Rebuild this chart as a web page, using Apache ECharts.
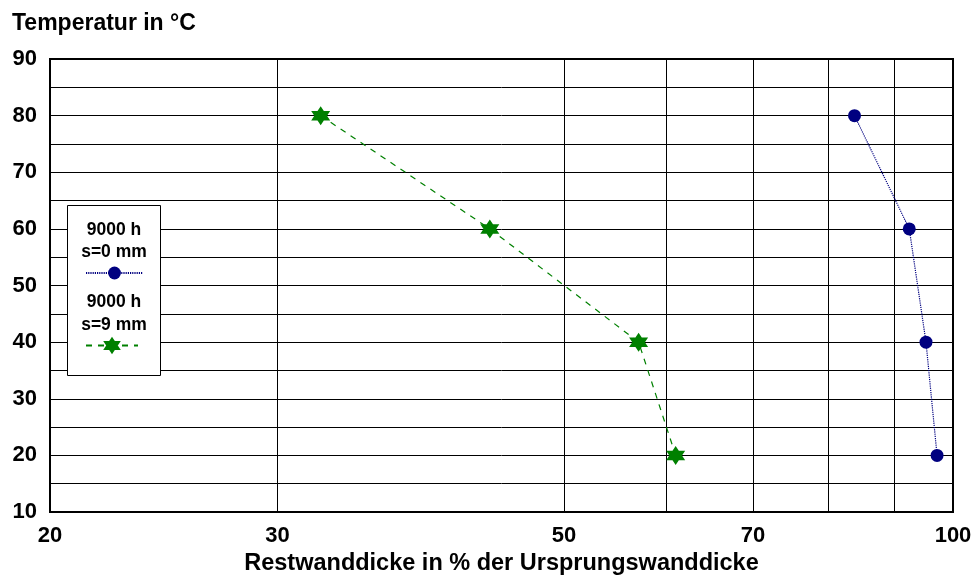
<!DOCTYPE html>
<html>
<head>
<meta charset="utf-8">
<script src="https://cdn.jsdelivr.net/npm/echarts@6/dist/echarts.min.js"></script>
<style>
  html, body { margin: 0; padding: 0; background: #fff; }
  #chart { width: 978px; height: 581px; }
</style>
</head>
<body>
<div id="chart"></div>
<script>
// Temperatures of the measuring points (°C)
const temperatures = [80, 60, 40, 20];
// Remaining wall thickness in % of the original thickness
const wall9000hS0 = [83.9, 92.5, 95.3, 97.2];
const wall9000hS9 = [32.4, 43.8, 57.1, 61.0];
// Logarithmic x axis: labelled values and grid line values
const xLabelValues = [20, 30, 50, 70, 100];
const xGridValues = [20, 30, 50, 60, 70, 80, 90, 100];
// Series names (two lines each)
const nameS0 = ['9000 h', 's=0 mm'];
const nameS9 = ['9000 h', 's=9 mm'];

const FONT = '"Liberation Sans", Arial, Helvetica, sans-serif';
const hexagram = 'path://M0,-10L8.66,5L-8.66,5Z M0,10L-8.66,-5L8.66,-5Z';

const pairs = (xs, ys) => xs.map((x, i) => [x, ys[i]]);

const chart = echarts.init(document.getElementById('chart'), null, { renderer: 'canvas' });

const legendText = (y, text) => ({
  type: 'text', z: 7, x: 114, y: y,
  style: { text: text, fill: '#000', font: 'bold 17.5px ' + FONT, textAlign: 'center', textVerticalAlign: 'middle' }
});

chart.setOption({
  animation: false,
  backgroundColor: '#fff',
  title: {
    text: 'Temperatur in °C',
    left: 12, top: 12, padding: 0,
    textStyle: { fontFamily: FONT, fontWeight: 'bold', fontSize: 23, color: '#000' }
  },
  grid: {
    left: 50, right: 25, top: 59, bottom: 67,
    show: true, borderColor: '#000', borderWidth: 2, backgroundColor: 'transparent'
  },
  xAxis: {
    type: 'log', logBase: 10, min: 20, max: 100,
    name: 'Restwanddicke in % der Ursprungswanddicke',
    nameLocation: 'middle', nameGap: 40,
    nameTextStyle: { fontFamily: FONT, fontWeight: 'bold', fontSize: 23.5, color: '#000' },
    axisLine: { show: true, lineStyle: { color: '#000', width: 2 } },
    axisTick: { show: false, customValues: xGridValues },
    axisLabel: {
      customValues: xLabelValues, margin: 13,
      fontFamily: FONT, fontWeight: 'bold', fontSize: 22, color: '#000'
    },
    splitLine: { show: true, lineStyle: { color: '#000', width: 1 } }
  },
  yAxis: {
    type: 'value', min: 10, max: 90, interval: 5,
    axisLine: { show: true, lineStyle: { color: '#000', width: 2 } },
    axisTick: { show: false },
    axisLabel: {
      margin: 13, padding: [3, 0, 0, 0],
      fontFamily: FONT, fontWeight: 'bold', fontSize: 22, color: '#000',
      formatter: v => (v % 10 === 0 ? String(v) : '')
    },
    splitLine: { show: true, lineStyle: { color: '#000', width: 1 } }
  },
  legend: [
    {
      data: [nameS0.join(' ')],
      left: 85, top: 265, padding: 0,
      itemWidth: 57, itemHeight: 16,
      formatter: () => '',
      selectedMode: false, z: 6
    },
    {
      data: [nameS9.join(' ')],
      left: 85, top: 334.5, padding: 0,
      itemWidth: 52, itemHeight: 22,
      formatter: () => '',
      selectedMode: false, z: 6
    }
  ],
  graphic: [
    {
      type: 'rect', z: 5,
      shape: { x: 67.5, y: 205.5, width: 93, height: 170 },
      style: { fill: '#fff', stroke: '#000', lineWidth: 1 }
    },
    legendText(230, nameS0[0]),
    legendText(252, nameS0[1]),
    legendText(302, nameS9[0]),
    legendText(325, nameS9[1])
  ],
  series: [
    {
      name: nameS0.join(' '),
      type: 'line',
      data: pairs(wall9000hS0, temperatures),
      symbol: 'circle', symbolSize: 13,
      itemStyle: { color: '#000080' },
      lineStyle: { color: '#000080', width: 1.2, type: [1.2, 1] },
      z: 3
    },
    {
      name: nameS9.join(' '),
      type: 'line',
      data: pairs(wall9000hS9, temperatures),
      symbol: hexagram, symbolSize: 19,
      itemStyle: { color: '#008000' },
      lineStyle: { color: '#008000', width: 1.2, type: [6, 6] },
      z: 3
    }
  ]
});
</script>
</body>
</html>
